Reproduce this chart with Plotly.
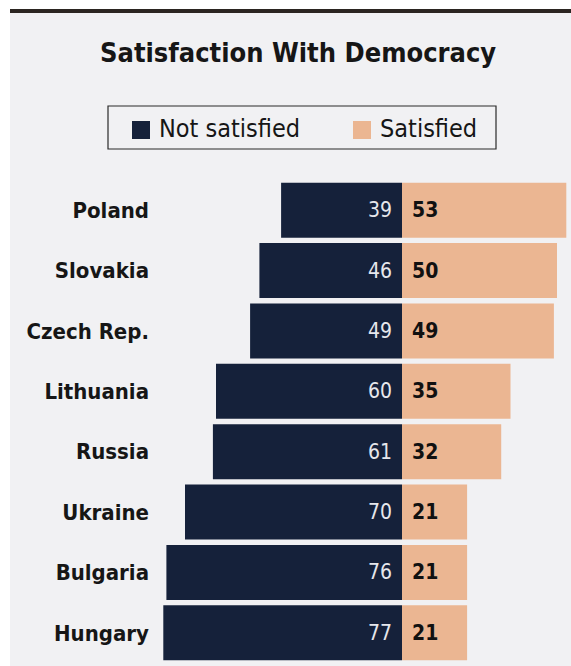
import plotly.graph_objects as go

# Survey results: share of respondents (%) by country
countries = ["Poland", "Slovakia", "Czech Rep.", "Lithuania", "Russia", "Ukraine", "Bulgaria", "Hungary"]
not_satisfied = [39, 46, 49, 60, 61, 70, 76, 77]
satisfied = [53, 50, 49, 35, 32, 21, 21, 21]
series_names = ["Not satisfied", "Satisfied"]
title_text = "Satisfaction With Democracy"

W, H = 571, 666
L, R, T, B = 160, 571, 180, 663          # plot area in pixels
NAVY = "#15213a"
PEACH = "#ebb692"
BG = "#f1f1f3"
FONT = "DejaVu Sans Condensed, Tahoma, Roboto, sans-serif"

def px_x(px):
    return (px - L) / (R - L)

def px_y(py):
    return (B - py) / (B - T)

x_min = -(402 - L) / 3.1
x_max = (R - 402) / 3.1

fig = go.Figure()
fig.add_trace(go.Bar(
    y=countries, x=[-v for v in not_satisfied], orientation="h",
    name=series_names[0], marker=dict(color=NAVY, line=dict(width=0)),
    hoverinfo="skip",
))
fig.add_trace(go.Bar(
    y=countries, x=satisfied, orientation="h",
    name=series_names[1], marker=dict(color=PEACH, line=dict(width=0)),
    hoverinfo="skip",
))

annotations = []
for c, v in zip(countries, not_satisfied):
    annotations.append(dict(
        x=0, y=c, xref="x", yref="y", text=str(v), showarrow=False,
        xanchor="right", xshift=-8, font=dict(family=FONT, size=21, color="#e6e7ec"),
    ))
for c, v in zip(countries, satisfied):
    annotations.append(dict(
        x=0, y=c, xref="x", yref="y", text=f"<b>{v}</b>", showarrow=False,
        xanchor="left", xshift=8, font=dict(family=FONT, size=21, color="#111111"),
    ))

# title
annotations.append(dict(
    x=px_x(298), y=px_y(53), xref="paper", yref="paper", text=f"<b>{title_text}</b>",
    showarrow=False, xanchor="center", yanchor="middle",
    font=dict(family=FONT, size=27, color="#161616"),
))

# legend box drawn by hand
shapes = [
    # page strip and top rule
    dict(type="rect", xref="paper", yref="paper", x0=px_x(0), x1=px_x(10), y0=px_y(H), y1=px_y(0),
         fillcolor="white", line=dict(width=0), layer="below"),
    dict(type="rect", xref="paper", yref="paper", x0=px_x(0), x1=px_x(W), y0=px_y(9), y1=px_y(0),
         fillcolor="white", line=dict(width=0), layer="below"),
    dict(type="rect", xref="paper", yref="paper", x0=px_x(10), x1=px_x(W), y0=px_y(13), y1=px_y(9),
         fillcolor="#2b2521", line=dict(width=0), layer="below"),
    dict(type="rect", xref="paper", yref="paper", x0=px_x(108), x1=px_x(496), y0=px_y(149), y1=px_y(106),
         fillcolor="rgba(0,0,0,0)", line=dict(color="#2a2a2a", width=1.2)),
    dict(type="rect", xref="paper", yref="paper", x0=px_x(132), x1=px_x(150), y0=px_y(139), y1=px_y(121),
         fillcolor=NAVY, line=dict(width=0)),
    dict(type="rect", xref="paper", yref="paper", x0=px_x(353), x1=px_x(371), y0=px_y(139), y1=px_y(121),
         fillcolor=PEACH, line=dict(width=0)),
]
for name, xpx in zip(series_names, [157, 378]):
    annotations.append(dict(
        x=px_x(xpx), y=px_y(129), xref="paper", yref="paper", text=name, showarrow=False,
        xanchor="left", yanchor="middle", font=dict(family=FONT, size=25, color="#161616"),
    ))

fig.update_layout(
    width=W, height=H,
    margin=dict(l=L, r=W - R, t=T, b=H - B),
    paper_bgcolor=BG, plot_bgcolor=BG,
    barmode="relative", bargap=0.09, showlegend=False,
    xaxis=dict(range=[x_min, x_max], visible=False, fixedrange=True),
    yaxis=dict(categoryorder="array", categoryarray=countries, autorange="reversed",
               showgrid=False, zeroline=False, showline=False, ticks="",
               ticklabelstandoff=10,
               tickfont=dict(family=FONT, size=22, color="#161616", weight="bold")),
    annotations=annotations, shapes=shapes,
)

fig.write_html("out.html")
